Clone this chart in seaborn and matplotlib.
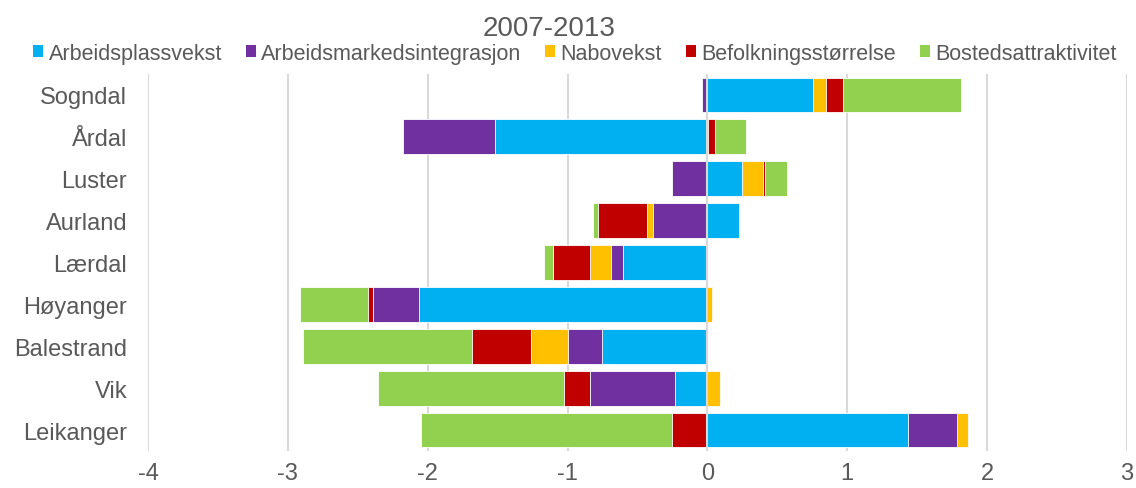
import numpy as np
import pandas as pd
import seaborn as sns
import matplotlib.pyplot as plt
from matplotlib.patches import Patch

# kommuner, top to bottom
kommuner = ['Sogndal', 'Årdal', 'Luster', 'Aurland', 'Lærdal',
            'Høyanger', 'Balestrand', 'Vik', 'Leikanger']

# components
arbeidsplassvekst = [0.755, -1.52, 0.25, 0.225, -0.606, -2.063, -0.754, -0.229, 1.433]
arbeidsmarkedsintegrasjon = [-0.04, -0.66, -0.25, -0.39, -0.081, -0.326, -0.242, -0.612, 0.355]
nabovekst = [0.09, 0.005, 0.15, -0.04, -0.156, 0.03, -0.265, 0.09, 0.074]
befolkningsstorrelse = [0.125, 0.05, 0.015, -0.35, -0.263, -0.036, -0.424, -0.181, -0.256]
bostedsattraktivitet = [0.845, 0.22, 0.157, -0.04, -0.06, -0.49, -1.204, -1.331, -1.794]

series = ['Arbeidsplassvekst', 'Arbeidsmarkedsintegrasjon', 'Nabovekst',
          'Befolkningsstørrelse', 'Bostedsattraktivitet']
colors = ['#00B0F0', '#7030A0', '#FFC000', '#C00000', '#92D050']

df = pd.DataFrame({
    'Arbeidsplassvekst': arbeidsplassvekst,
    'Arbeidsmarkedsintegrasjon': arbeidsmarkedsintegrasjon,
    'Nabovekst': nabovekst,
    'Befolkningsstørrelse': befolkningsstorrelse,
    'Bostedsattraktivitet': bostedsattraktivitet,
}, index=kommuner)

# cumulative ends, positive and negative stacked separately
pos_cum = df.clip(lower=0).cumsum(axis=1)
neg_cum = df.clip(upper=0).cumsum(axis=1)

sns.set_style('white')
plt.rcParams['font.family'] = ['Liberation Sans', 'DejaVu Sans']
grey = '#595959'

fig = plt.figure(figsize=(11.36, 4.89), dpi=100)
ax = fig.add_axes([0.1303, 0.0757, 0.8617, 0.771])

# draw outermost segment first, inner ones cover the rest
for name, col in reversed(list(zip(series, colors))):
    for cum in (pos_cum, neg_cum):
        tmp = pd.DataFrame({'kommune': kommuner, 'value': cum[name].values})
        sns.barplot(data=tmp, x='value', y='kommune', order=kommuner,
                    color=col, saturation=1, width=0.83, orient='h',
                    edgecolor='white', linewidth=0.6, ax=ax, zorder=2)

ax.set_xlim(-4, 3)
ax.set_ylim(8.5, -0.5)
ax.set_xticks(range(-4, 4))
ax.set_xticklabels([str(v) for v in range(-4, 4)])
ax.grid(axis='x', color='#d9d9d9', linewidth=1.5, zorder=0)
ax.grid(axis='y', visible=False)
ax.set_axisbelow(True)
ax.axvline(0, color='#d9d9d9', linewidth=1.5, zorder=5)
for s in ax.spines.values():
    s.set_visible(False)
ax.set_xlabel('')
ax.set_ylabel('')
ax.tick_params(axis='y', length=0, pad=15, labelsize=17, labelcolor=grey)
ax.tick_params(axis='x', length=0, pad=8, labelsize=17, labelcolor=grey)

fig.text(0.483, 0.94, '2007-2013', ha='center', va='center', fontsize=20, color=grey)

handles = [Patch(facecolor=c, edgecolor='none', label=s) for s, c in zip(series, colors)]
leg = fig.legend(handles=handles, loc='center', bbox_to_anchor=(0.506, 0.889),
                 ncol=5, frameon=False, fontsize=15.5, handlelength=0.47,
                 handleheight=0.47, handletextpad=0.25, columnspacing=1.1,
                 borderaxespad=0, borderpad=0)
for t in leg.get_texts():
    t.set_color(grey)

fig.savefig('out.png', dpi=100)
